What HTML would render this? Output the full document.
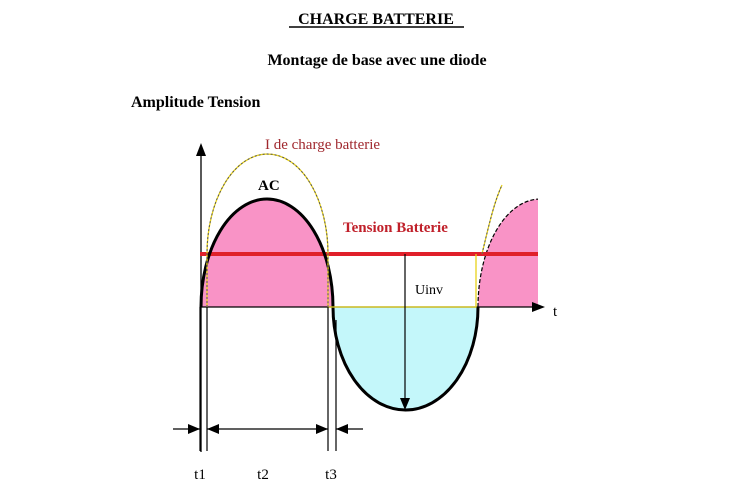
<!DOCTYPE html>
<html><head><meta charset="utf-8"><style>
html,body{margin:0;padding:0;background:#fff;width:735px;height:494px;overflow:hidden}
svg{display:block}
text{font-family:"Liberation Serif",serif}
</style></head><body>
<svg width="735" height="494" viewBox="0 0 735 494">
<defs><clipPath id="c"><rect x="0" y="0" width="538" height="494"/></clipPath></defs>
<text x="376" y="24" font-size="16" font-weight="bold" text-anchor="middle">CHARGE BATTERIE</text>
<line x1="289" y1="27" x2="464" y2="27" stroke="#000" stroke-width="1.5"/>
<text x="377" y="65" font-size="16" font-weight="bold" text-anchor="middle">Montage de base avec une diode</text>
<text x="131" y="107" font-size="16" font-weight="bold">Amplitude Tension</text>

<!-- fills -->
<path d="M201,307 A66,108 0 0 1 333,307 Z" fill="#f993c6"/>
<path d="M333,307 A72.5,103 0 0 0 478,307 Z" fill="#c4f7fa"/>
<g clip-path="url(#c)">
<path d="M478,307 A62,108 0 0 1 602,307 Z" fill="#f993c6"/>
<path d="M478,307 A62,108 0 0 1 602,307" fill="none" stroke="#000" stroke-width="1.2" stroke-dasharray="4,2"/>
</g>

<!-- axes -->
<line x1="201" y1="150" x2="201" y2="452" stroke="#000" stroke-width="1.3"/>
<polygon points="196,156 201,143 206,156" fill="#000"/>
<line x1="201" y1="307" x2="540" y2="307" stroke="#000" stroke-width="1.3"/>
<polygon points="532,302 545,307 532,312" fill="#000"/>
<text x="553" y="316" font-size="15">t</text>

<!-- battery line -->
<line x1="200" y1="254" x2="538" y2="254" stroke="#e0202a" stroke-width="4"/>

<!-- AC curve -->
<path d="M201,307 A66,108 0 0 1 333,307 A72.5,103 0 0 0 478,307" fill="none" stroke="#000" stroke-width="3"/>

<!-- current -->
<path d="M207,307 L207,254 A60.5,100 0 0 1 328,254 L328,307 L476,307 L476,254 M482,254 C490,220 495,200 502,185" fill="none" stroke="#e8d21a" stroke-width="1.3"/>
<path d="M207,307 L207,254 A60.5,100 0 0 1 328,254 L328,307 M482,254 C490,220 495,200 502,185" fill="none" stroke="#555" stroke-width="1" stroke-dasharray="2,2"/>

<!-- Uinv -->
<line x1="405" y1="254" x2="405" y2="400" stroke="#000" stroke-width="1.2"/>
<polygon points="400,398 405,410 410,398" fill="#000"/>
<text x="415" y="294" font-size="14">Uinv</text>

<!-- labels -->
<text x="265" y="149" font-size="15" fill="#a0282e">I de charge batterie</text>
<text x="258" y="190" font-size="15" font-weight="bold">AC</text>
<text x="343" y="232" font-size="15" font-weight="bold" fill="#c0202a">Tension Batterie</text>

<!-- time markers -->
<g stroke="#000" stroke-width="1.2">
<line x1="200" y1="307" x2="200" y2="451"/>
<line x1="207" y1="307" x2="207" y2="451"/>
<line x1="328" y1="307" x2="328" y2="451"/>
<line x1="336" y1="320" x2="336" y2="451"/>
<line x1="173" y1="429" x2="200" y2="429"/>
<line x1="207" y1="429" x2="328" y2="429"/>
<line x1="336" y1="429" x2="363" y2="429"/>
</g>
<polygon points="188,424 200,429 188,434" fill="#000"/>
<polygon points="219,424 207,429 219,434" fill="#000"/>
<polygon points="316,424 328,429 316,434" fill="#000"/>
<polygon points="348,424 336,429 348,434" fill="#000"/>
<text x="200" y="479" font-size="15" text-anchor="middle">t1</text>
<text x="263" y="479" font-size="15" text-anchor="middle">t2</text>
<text x="331" y="479" font-size="15" text-anchor="middle">t3</text>
</svg>
</body></html>
